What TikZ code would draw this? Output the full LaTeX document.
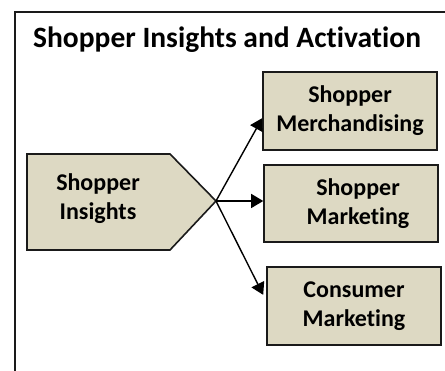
\documentclass[tikz,border=0pt]{standalone}
\usepackage{fontspec}
\setmainfont[Ligatures={TeX,NoCommon}]{Carlito}
\usetikzlibrary{arrows.meta,calc}
\definecolor{boxfill}{HTML}{DDD9C3}
\definecolor{edgec}{HTML}{1A1A1A}
\begin{document}
\begin{tikzpicture}[x=1pt,y=-1pt,
  boxtext/.style={align=center,font=\fontsize{24}{29}\selectfont\bfseries,text=black},
  box/.style={boxtext,draw=edgec,line width=1.6pt,fill=boxfill,minimum width=174pt,minimum height=78pt,inner sep=0pt},
  conn/.style={draw=black,line width=1.4pt,-{Triangle[length=12pt,width=14pt]}}]
\useasboundingbox (0,0) rectangle (445,371);
\fill[white] (0,0) rectangle (445,371);
\clip (0,0) rectangle (445,371);
% frame
\draw[edgec,line width=1.5pt] (15,380) -- (15,12) -- (455,12);
% title
\node[anchor=base west,inner sep=0pt,font=\fontsize{29.5}{34}\selectfont\bfseries,text=black] (title) at (33,48) {Shopper Insights and Activation};
% pentagon
\draw[edgec,line width=1.6pt,fill=boxfill] (27,154) -- (170,154) -- (216,201) -- (170,250) -- (27,250) -- cycle;
\node[boxtext] (ins) at (98,199) {Shopper\\Insights};
\coordinate (tip) at (216,201);
% boxes
\node[box] (b1) at (350,111) {Shopper\\Merchandising};
\node[box,minimum height=77pt] (b2) at (351,203.5) {\hspace*{14pt}Shopper\\\hspace*{14pt}Marketing};
\node[box] (b3) at (354,306) {Consumer\\Marketing};
% connectors
\draw[conn] (tip) -- ($(b1.north west)!0.59!(b1.south west)$);
\draw[conn] (tip) -- (b2.west |- tip);
\draw[conn] (tip) -- ($(b3.north west)!0.36!(b3.south west)+(-3,0)$);
\end{tikzpicture}
\end{document}
